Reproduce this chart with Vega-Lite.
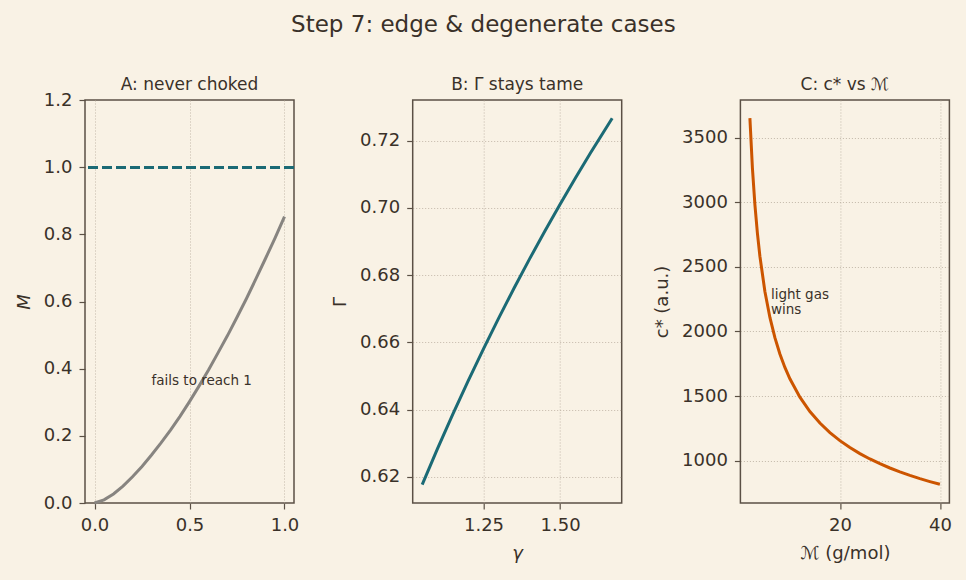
{
  "$schema": "https://vega.github.io/schema/vega-lite/v6.json",
  "background": "#f9f2e5",
  "padding": {"left": 14, "top": 14, "right": 14, "bottom": 20},
  "title": {"text": "Step 7: edge & degenerate cases", "fontSize": 23, "anchor": "middle", "offset": 38, "fontWeight": "normal", "color": "#3a3129", "font": "DejaVu Sans"},
  "bounds": "flush",
  "spacing": 118.7,
  "config": {
    "font": "DejaVu Sans",
    "view": {"stroke": "#5b5045", "strokeWidth": 1.5},
    "axis": {
      "domain": false,
      "tickColor": "#5b5045",
      "tickSize": 6,
      "tickWidth": 1.2,
      "labelFontSize": 18,
      "labelColor": "#3a3129",
      "labelPadding": 7,
      "labelFlush": false,
      "labelOverlap": false,
      "labelBound": false,
      "titleFontSize": 18,
      "titleFontWeight": "normal",
      "titleColor": "#3a3129",
      "titlePadding": 10,
      "gridColor": "#b5aa9b",
      "gridDash": [1, 2],
      "gridWidth": 0.8
    },
    "title": {"fontSize": 17, "fontWeight": "normal", "color": "#3a3129", "offset": 6}
  },
  "hconcat": [
    {
      "width": 209,
      "height": 403,
      "title": {"text": "A: never choked", "offset": -3},
      "data": {"values": [
        {"x": 0.0, "M": 0.0},
        {"x": 0.05, "M": 0.0095},
        {"x": 0.1, "M": 0.027},
        {"x": 0.15, "M": 0.0505},
        {"x": 0.2, "M": 0.078},
        {"x": 0.25, "M": 0.109},
        {"x": 0.3, "M": 0.143},
        {"x": 0.35, "M": 0.179},
        {"x": 0.4, "M": 0.217},
        {"x": 0.45, "M": 0.258},
        {"x": 0.5, "M": 0.302},
        {"x": 0.55, "M": 0.348},
        {"x": 0.6, "M": 0.396},
        {"x": 0.65, "M": 0.447},
        {"x": 0.7, "M": 0.4985},
        {"x": 0.75, "M": 0.553},
        {"x": 0.8, "M": 0.609},
        {"x": 0.85, "M": 0.668},
        {"x": 0.9, "M": 0.728},
        {"x": 0.95, "M": 0.789},
        {"x": 1.0, "M": 0.853}
      ]},
      "layer": [
        {
          "mark": {"type": "rule", "strokeDash": [10, 4], "strokeWidth": 2.5, "color": "#1b6a75"},
          "encoding": {"y": {"datum": 1.0, "type": "quantitative"}}
        },
        {
          "mark": {"type": "line", "strokeWidth": 3, "color": "#878480"},
          "encoding": {
            "x": {"field": "x", "type": "quantitative", "scale": {"domain": [-0.05, 1.05], "nice": false, "zero": false},
                  "axis": {"values": [0, 0.5, 1.0], "format": ".1f", "title": null}},
            "y": {"field": "M", "type": "quantitative", "scale": {"domain": [0, 1.2], "nice": false},
                  "axis": {"values": [0, 0.2, 0.4, 0.6, 0.8, 1.0, 1.2], "format": ".1f", "title": "M", "titleFontStyle": "italic"}}
          }
        },
        {
          "data": {"values": [{"x": 0.3, "M": 0.35, "label": "fails to reach 1"}]},
          "mark": {"type": "text", "align": "left", "baseline": "alphabetic", "fontSize": 13.5, "color": "#3a3129"},
          "encoding": {
            "x": {"field": "x", "type": "quantitative"},
            "y": {"field": "M", "type": "quantitative"},
            "text": {"field": "label"}
          }
        }
      ]
    },
    {
      "width": 209,
      "height": 403,
      "title": "B: Γ stays tame",
      "data": {"values": [
        {"g": 1.05, "G": 0.61768},
        {"g": 1.10, "G": 0.62837},
        {"g": 1.15, "G": 0.63865},
        {"g": 1.20, "G": 0.64855},
        {"g": 1.25, "G": 0.65808},
        {"g": 1.30, "G": 0.66728},
        {"g": 1.35, "G": 0.67616},
        {"g": 1.40, "G": 0.68475},
        {"g": 1.45, "G": 0.69306},
        {"g": 1.50, "G": 0.70111},
        {"g": 1.55, "G": 0.70890},
        {"g": 1.60, "G": 0.71647},
        {"g": 1.67, "G": 0.72665}
      ]},
      "mark": {"type": "line", "strokeWidth": 3, "color": "#1b6a75"},
      "encoding": {
        "x": {"field": "g", "type": "quantitative", "scale": {"domain": [1.019, 1.701], "nice": false, "zero": false},
              "axis": {"values": [1.25, 1.5], "format": ".2f", "title": "γ", "titleFontStyle": "italic"}},
        "y": {"field": "G", "type": "quantitative", "scale": {"domain": [0.6122, 0.7321], "nice": false, "zero": false},
              "axis": {"values": [0.62, 0.64, 0.66, 0.68, 0.70, 0.72], "format": ".2f", "title": "Γ"}}
      }
    },
    {
      "width": 209,
      "height": 403,
      "title": "C: c* vs ℳ",
      "data": {"values": [
        {"m": 2, "c": 3652.2},
        {"m": 2.5, "c": 3266.6},
        {"m": 3, "c": 2982.0},
        {"m": 3.5, "c": 2760.8},
        {"m": 4, "c": 2582.5},
        {"m": 5, "c": 2309.9},
        {"m": 6, "c": 2108.6},
        {"m": 7, "c": 1952.2},
        {"m": 8, "c": 1826.1},
        {"m": 9, "c": 1721.7},
        {"m": 10, "c": 1633.3},
        {"m": 12, "c": 1491.0},
        {"m": 14, "c": 1380.4},
        {"m": 16, "c": 1291.3},
        {"m": 18, "c": 1217.4},
        {"m": 20, "c": 1154.9},
        {"m": 22, "c": 1101.2},
        {"m": 24, "c": 1054.3},
        {"m": 26, "c": 1012.9},
        {"m": 28, "c": 976.1},
        {"m": 30, "c": 943.0},
        {"m": 32, "c": 913.1},
        {"m": 34, "c": 885.8},
        {"m": 36, "c": 860.8},
        {"m": 38, "c": 837.9},
        {"m": 40, "c": 816.7}
      ]},
      "layer": [
        {
          "mark": {"type": "line", "strokeWidth": 3, "color": "#cc5500"},
          "encoding": {
            "x": {"field": "m", "type": "quantitative", "scale": {"domain": [0.1, 41.9], "nice": false, "zero": false},
                  "axis": {"values": [20, 40], "title": "ℳ (g/mol)"}},
            "y": {"field": "c", "type": "quantitative", "scale": {"domain": [672, 3792], "nice": false, "zero": false},
                  "axis": {"values": [1000, 1500, 2000, 2500, 3000, 3500], "format": "d", "title": "c* (a.u.)"}}
          }
        },
        {
          "data": {"values": [
            {"m": 6.2, "c": 2255, "label": "light gas"},
            {"m": 6.2, "c": 2136, "label": "wins"}
          ]},
          "mark": {"type": "text", "align": "left", "baseline": "alphabetic", "fontSize": 13.5, "color": "#3a3129"},
          "encoding": {
            "x": {"field": "m", "type": "quantitative"},
            "y": {"field": "c", "type": "quantitative"},
            "text": {"field": "label"}
          }
        }
      ]
    }
  ]
}
